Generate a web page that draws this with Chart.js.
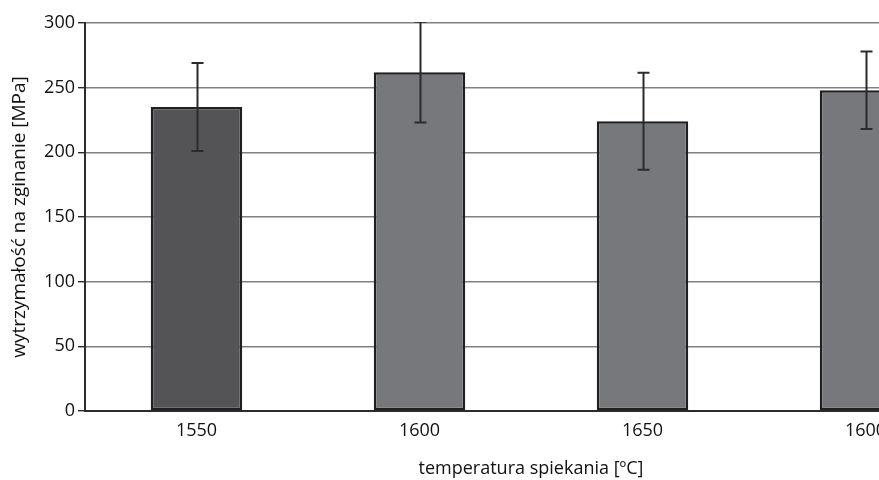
<!DOCTYPE html>
<html>
<head>
<meta charset="utf-8">
<script src="https://cdn.jsdelivr.net/npm/chart.js@4"></script>
<style>
  html, body { margin: 0; padding: 0; background: #ffffff; overflow: hidden; }
  #wrap { width: 990px; height: 480px; }
</style>
</head>
<body>
<div id="wrap"><canvas id="c" width="990" height="480"></canvas></div>
<script>
// Sintering temperatures and measured bending strength with spread
const categories = ['1550', '1600', '1650', '1600'];
const strength = [235, 262, 224, 248];
const spread = [34, 39, 37.5, 30];
const yTicks = [0, 50, 100, 150, 200, 250, 300];
const barColors = ['#545456', '#77787c', '#77787c', '#77787c'];

const FONT = "'Open Sans', sans-serif";
const TEXT = '#111111';

// Draws the vertical range whiskers on top of each bar, clipped to the plot area
const whiskers = {
  id: 'whiskers',
  afterDatasetsDraw(chart) {
    const { ctx, chartArea, scales } = chart;
    const meta = chart.getDatasetMeta(0);
    ctx.save();
    ctx.beginPath();
    ctx.rect(chartArea.left, chartArea.top - 1, chartArea.right - chartArea.left, chartArea.bottom - chartArea.top + 2);
    ctx.clip();
    ctx.strokeStyle = '#2b2b2d';
    ctx.lineWidth = 2;
    meta.data.forEach((bar, i) => {
      const x = Math.round(bar.x) + 0.5;
      const yHi = scales.y.getPixelForValue(strength[i] + spread[i]);
      const yLo = scales.y.getPixelForValue(strength[i] - spread[i]);
      ctx.beginPath();
      ctx.moveTo(x, yHi);
      ctx.lineTo(x, yLo);
      ctx.moveTo(x - 6, yHi);
      ctx.lineTo(x + 6, yHi);
      ctx.moveTo(x - 6, yLo);
      ctx.lineTo(x + 6, yLo);
      ctx.stroke();
    });
    ctx.restore();
  }
};

new Chart(document.getElementById('c'), {
  type: 'bar',
  data: {
    labels: categories,
    datasets: [{
      data: strength,
      backgroundColor: barColors,
      borderColor: '#1f1f21',
      borderWidth: 2.5,
      borderSkipped: false,
      categoryPercentage: 1,
      barPercentage: 0.41
    }]
  },
  options: {
    responsive: false,
    animation: false,
    layout: { padding: { top: 23, right: 13, left: 0, bottom: 0 } },
    plugins: {
      legend: { display: false },
      tooltip: { enabled: false }
    },
    scales: {
      x: {
        grid: { display: false, drawTicks: false },
        border: { display: true, color: '#2b2b2d', width: 2 },
        ticks: { color: TEXT, font: { family: FONT, size: 18 }, padding: 9 },
        title: {
          display: true,
          text: 'temperatura spiekania [ºC]',
          color: TEXT,
          font: { family: FONT, size: 18 },
          padding: { top: 8, bottom: 0 }
        },
        afterFit(scale) { scale.height = 69; }
      },
      y: {
        min: 0,
        max: 300,
        afterBuildTicks(scale) { scale.ticks = yTicks.map(v => ({ value: v })); },
        grid: {
          color: '#808080',
          lineWidth: 1.4,
          tickLength: 7,
          tickColor: '#2b2b2d'
        },
        border: { display: true, color: '#2b2b2d', width: 2 },
        ticks: { color: TEXT, font: { family: FONT, size: 18 }, padding: 3 },
        title: {
          display: true,
          text: 'wytrzymałość na zginanie [MPa]',
          color: TEXT,
          font: { family: FONT, size: 19 },
          padding: { top: 8, bottom: 0 }
        },
        afterFit(scale) { scale.width = 85; }
      }
    }
  },
  plugins: [whiskers]
});
</script>
</body>
</html>
